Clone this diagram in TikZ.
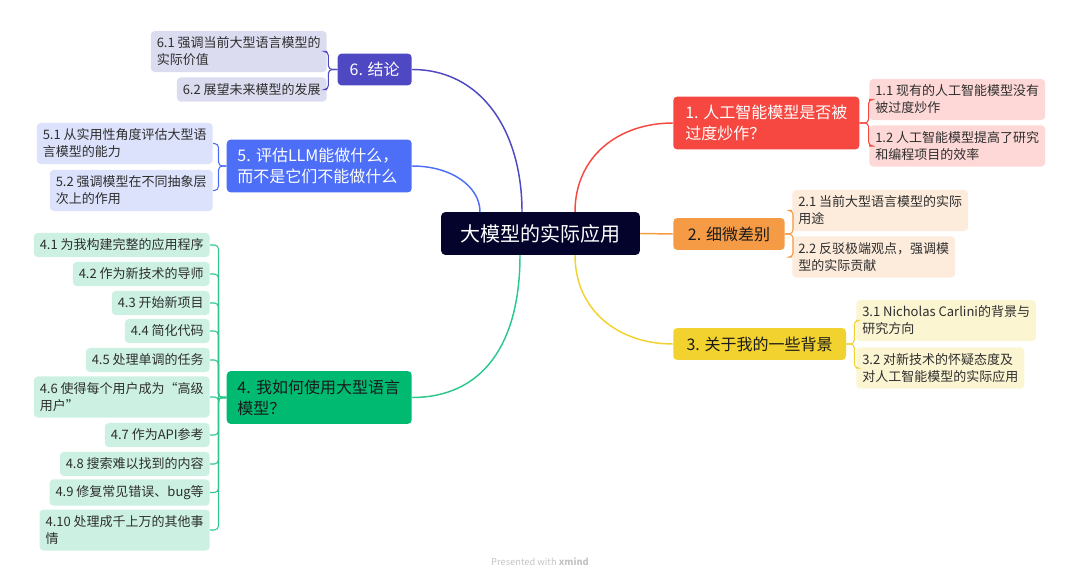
\documentclass[tikz,border=0pt]{standalone}
\usepackage{fontspec}
\setmainfont{Noto Sans CJK SC}
\usetikzlibrary{calc}

\definecolor{rootfill}{HTML}{03032B}
\definecolor{redtopic}{HTML}{F64840}
\definecolor{redsub}{HTML}{FDD8D7}
\definecolor{orangetopic}{HTML}{F59B45}
\definecolor{orangesub}{HTML}{FDEBDB}
\definecolor{yellowtopic}{HTML}{F2D22E}
\definecolor{yellowsub}{HTML}{FCF5D2}
\definecolor{greentopic}{HTML}{00BA72}
\definecolor{greenline}{HTML}{2DC98C}
\definecolor{greensub}{HTML}{CCF1E3}
\definecolor{bluetopic}{HTML}{4D6EF7}
\definecolor{bluesub}{HTML}{DCE2FC}
\definecolor{purpletopic}{HTML}{4E48C2}
\definecolor{purplesub}{HTML}{DCDCF1}
\definecolor{subtext}{HTML}{2E2E2E}
\definecolor{darktext}{HTML}{1A1A1A}
\definecolor{footgray}{HTML}{C4C4C4}

\begin{document}
\begin{tikzpicture}[x=0.75pt,y=-0.75pt,
  roottopic/.style={fill=rootfill,text=white,rounded corners=3pt,inner xsep=14.5pt,inner ysep=9pt,font=\fontsize{15}{18}\selectfont},
  maintopic/.style={fill=#1,rounded corners=3pt,inner xsep=9pt,inner ysep=6.4pt,align=left,font=\fontsize{12}{15.75}\selectfont},
  subtopic/.style={fill=#1,text=subtext,rounded corners=3pt,inner xsep=4.5pt,inner ysep=4.5pt,align=left,font=\fontsize{9.75}{12.75}\selectfont},
  branch/.style={draw=#1,line width=1.1pt},
  twig/.style={draw=#1,line width=0.8pt,rounded corners=3pt}]
\useasboundingbox (0,0) rectangle (1080,581);

% centre
\node[roottopic] (root) at (540.5,233.5) {大模型的实际应用};

% right side
\node[maintopic=redtopic,text=white,anchor=west] (b1) at (673,123) {1. 人工智能模型是否被\\过度炒作？};
\node[maintopic=orangetopic,text=darktext,inner xsep=11pt,anchor=west] (b2) at (673,234) {2. 细微差别};
\node[maintopic=yellowtopic,text=darktext,inner xsep=10pt,anchor=west] (b3) at (673,344) {3. 关于我的一些背景};

\node[subtopic=redsub,anchor=west] (s11) at (869,99.5) {1.1 现有的人工智能模型没有\\被过度炒作};
\node[subtopic=redsub,anchor=west] (s12) at (869,146) {1.2 人工智能模型提高了研究\\和编程项目的效率};
\node[subtopic=orangesub,anchor=west] (s21) at (792,210.5) {2.1 当前大型语言模型的实际\\用途};
\node[subtopic=orangesub,anchor=west] (s22) at (792,257) {2.2 反驳极端观点，强调模\\型的实际贡献};
\node[subtopic=yellowsub,anchor=west] (s31) at (856,320.5) {3.1 Nicholas Carlini的背景与\\研究方向};
\node[subtopic=yellowsub,anchor=west] (s32) at (856,368) {3.2 对新技术的怀疑态度及\\对人工智能模型的实际应用};

% left side
\node[maintopic=purpletopic,text=white,anchor=east] (b6) at (412,69.5) {6. 结论};
\node[maintopic=bluetopic,text=white,inner xsep=8pt,text width=122.75pt,anchor=east] (b5) at (412,166) {5.~评估LLM能做什么，\\而不是它们不能做什么};
\node[maintopic=greentopic,text=darktext,inner xsep=8pt,text width=122.75pt,anchor=east] (b4) at (412,397.5) {4.~我如何使用大型语言\\模型？};

\node[subtopic=purplesub,anchor=east] (s61) at (327,51.5) {6.1 强调当前大型语言模型的\\实际价值};
\node[subtopic=purplesub,anchor=east] (s62) at (327,89.5) {6.2 展望未来模型的发展};
\node[subtopic=bluesub,anchor=east] (s51) at (213,143.5) {5.1 从实用性角度评估大型语\\言模型的能力};
\node[subtopic=bluesub,anchor=east] (s52) at (213,190.5) {5.2 强调模型在不同抽象层\\次上的作用};

\node[subtopic=greensub,anchor=east] (s41) at (210,245) {4.1 为我构建完整的应用程序};
\node[subtopic=greensub,anchor=east] (s42) at (210,274) {4.2 作为新技术的导师};
\node[subtopic=greensub,anchor=east] (s43) at (210,303) {4.3 开始新项目};
\node[subtopic=greensub,anchor=east] (s44) at (210,331) {4.4 简化代码};
\node[subtopic=greensub,anchor=east] (s45) at (210,360) {4.5 处理单调的任务};
\node[subtopic=greensub,anchor=east] (s46) at (210,397) {4.6 使得每个用户成为“高级\\用户”};
\node[subtopic=greensub,anchor=east] (s47) at (210,435) {4.7 作为API参考};
\node[subtopic=greensub,anchor=east] (s48) at (210,464) {4.8 搜索难以找到的内容};
\node[subtopic=greensub,anchor=east] (s49) at (210,492.5) {4.9 修复常见错误、bug等};
\node[subtopic=greensub,anchor=east] (s410) at (210,530) {4.10 处理成千上万的其他事\\情};

% main branches
\draw[branch=redtopic] ($(root.north)+(34.5,0)$) .. controls +(0,-55) and +(-55,0) .. (b1.west);
\draw[branch=orangetopic] (root.east) -- (b2.west);
\draw[branch=yellowtopic] ($(root.south)+(34.5,0)$) .. controls +(0,55) and +(-55,0) .. (b3.west);
\draw[branch=purpletopic] ($(root.north)+(-18.5,0)$) .. controls +(0,-80) and +(70,0) .. (b6.east);
\draw[branch=bluetopic] ($(root.north)+(-60.5,0)$) .. controls +(0,-25) and +(40,0) .. (b5.east);
\draw[branch=greenline] ($(root.south)+(-20.5,0)$) .. controls +(0,90) and +(70,0) .. (b4.east);

% sub brackets
\draw[twig=redtopic] (b1.east) -- ++(9,0) |- (s11.west);
\draw[twig=redtopic] (b1.east) -- ++(9,0) |- (s12.west);
\draw[twig=orangetopic] (b2.east) -- ++(8,0) |- (s21.west);
\draw[twig=orangetopic] (b2.east) -- ++(8,0) |- (s22.west);
\draw[twig=yellowtopic] (b3.east) -- ++(8,0) |- (s31.west);
\draw[twig=yellowtopic] (b3.east) -- ++(8,0) |- (s32.west);
\draw[twig=purpletopic] (b6.west) -- ++(-9,0) |- (s61.east);
\draw[twig=purpletopic] (b6.west) -- ++(-9,0) |- (s62.east);
\draw[twig=bluetopic] (b5.west) -- ++(-8,0) |- (s51.east);
\draw[twig=bluetopic] (b5.west) -- ++(-8,0) |- (s52.east);
\foreach \k in {1,...,10}
  \draw[twig=greenline] (b4.west) -- ++(-8,0) |- (s4\k.east);

\node[text=footgray,font=\fontsize{7}{9}\selectfont] (credit) at (540,562) {Presented with \textbf{xmind}};
\end{tikzpicture}
\end{document}
